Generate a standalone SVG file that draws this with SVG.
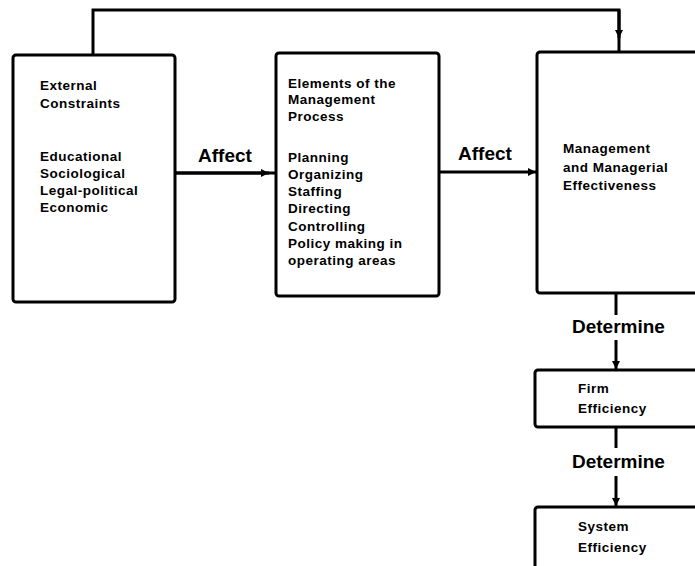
<svg xmlns="http://www.w3.org/2000/svg" width="695" height="566" viewBox="0 0 695 566">
<style>
.box{fill:#fff;stroke:#000;stroke-width:3}
.ln{fill:none;stroke:#000;stroke-width:3}
.t{font-family:"Liberation Sans",Arial,sans-serif;font-weight:bold;font-size:13.5px;letter-spacing:0.5px;fill:#000}
.lbl{font-family:"Liberation Sans",Arial,sans-serif;font-weight:bold;font-size:19px;fill:#000}
</style>
<defs>
<marker id="ah" viewBox="0 0 10 10" refX="10" refY="5" markerWidth="10" markerHeight="8" markerUnits="userSpaceOnUse" orient="auto">
<path d="M0,0 L10,5 L0,10 z" fill="#000"/>
</marker>
</defs>
<g id="connectors">
<path class="ln" d="M93,55 V10 H619 V52"/>
<path class="ln" d="M619,10 V38" marker-end="url(#ah)"/>
<path class="ln" d="M175,173 H276"/>
<path class="ln" d="M175,173 H269" marker-end="url(#ah)"/>
<path class="ln" d="M439,172 H536" marker-end="url(#ah)"/>
<path class="ln" d="M616,293 V315"/>
<path class="ln" d="M616,340 V369" marker-end="url(#ah)"/>
<path class="ln" d="M616,427 V448"/>
<path class="ln" d="M616,476 V506" marker-end="url(#ah)"/>
<text class="lbl" x="198" y="162">Affect</text>
<text class="lbl" x="458" y="160">Affect</text>
<text class="lbl" x="572" y="333">Determine</text>
<text class="lbl" x="572" y="468">Determine</text>
</g>
<g id="external">
<rect class="box" x="13" y="55" width="162" height="247" rx="3"/>
<text class="t" x="40" y="90">External</text>
<text class="t" x="40" y="108">Constraints</text>
<text class="t" x="40" y="161">Educational</text>
<text class="t" x="40" y="178">Sociological</text>
<text class="t" x="40" y="195">Legal-political</text>
<text class="t" x="40" y="212">Economic</text>
</g>
<g id="elements">
<rect class="box" x="276" y="53" width="163" height="243" rx="3"/>
<text class="t" x="288" y="88">Elements of the</text>
<text class="t" x="288" y="104">Management</text>
<text class="t" x="288" y="121">Process</text>
<text class="t" x="288" y="162">Planning</text>
<text class="t" x="288" y="179">Organizing</text>
<text class="t" x="288" y="196">Staffing</text>
<text class="t" x="288" y="213">Directing</text>
<text class="t" x="288" y="231">Controlling</text>
<text class="t" x="288" y="248">Policy making in</text>
<text class="t" x="288" y="265">operating areas</text>
</g>
<g id="effectiveness">
<rect class="box" x="537" y="52" width="170" height="241" rx="3"/>
<text class="t" x="563" y="153">Management</text>
<text class="t" x="563" y="172">and Managerial</text>
<text class="t" x="563" y="190">Effectiveness</text>
</g>
<g id="firm">
<rect class="box" x="535" y="370" width="172" height="57" rx="3"/>
<text class="t" x="578" y="393">Firm</text>
<text class="t" x="578" y="413">Efficiency</text>
</g>
<g id="system">
<rect class="box" x="535" y="507" width="172" height="70" rx="3"/>
<text class="t" x="578" y="531">System</text>
<text class="t" x="578" y="552">Efficiency</text>
</g>
</svg>
